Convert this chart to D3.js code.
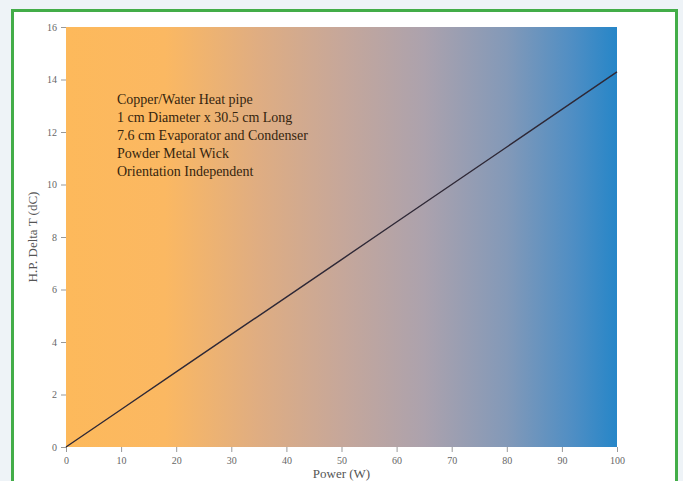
<!DOCTYPE html>
<html>
<head>
<meta charset="utf-8">
<script src="https://cdn.jsdelivr.net/npm/d3@7"></script>
<style>
  html, body { margin: 0; padding: 0; background: #eef3f7; }
  svg { display: block; }
</style>
</head>
<body>
<div id="chart"></div>
<script>
const power = [0, 10, 20, 30, 40, 50, 60, 70, 80, 90, 100];
const deltaT = [0, 1.43, 2.86, 4.29, 5.71, 7.14, 8.57, 10.0, 11.43, 12.86, 14.29];
const xTicks = [0, 10, 20, 30, 40, 50, 60, 70, 80, 90, 100];
const yTicks = [0, 2, 4, 6, 8, 10, 12, 14, 16];
const notes = [
  "Copper/Water Heat pipe",
  "1 cm Diameter x 30.5 cm Long",
  "7.6 cm Evaporator and Condenser",
  "Powder Metal Wick",
  "Orientation Independent"
];

const width = 683, height = 481;
const margin = { top: 27, right: 66, bottom: 34, left: 66 };

const svg = d3.select("#chart").append("svg")
  .attr("width", width)
  .attr("height", height);

// panel with green frame
svg.append("rect")
  .attr("x", 12.5).attr("y", 10.5)
  .attr("width", 664).attr("height", 480)
  .attr("fill", "#fff")
  .attr("stroke", "#43ad48")
  .attr("stroke-width", 3);

const x = d3.scaleLinear().domain([0, 100]).range([margin.left, width - margin.right]);
const y = d3.scaleLinear().domain([0, 16]).range([height - margin.bottom, margin.top]);

const defs = svg.append("defs");
const grad = defs.append("linearGradient").attr("id", "bg").attr("x1", 0).attr("x2", 1).attr("y1", 0).attr("y2", 0);
[[0, "#fdb95b"], [0.18, "#fbb862"], [0.35, "#dfad82"], [0.5, "#c6a79a"], [0.65, "#aca2ad"],
 [0.8, "#8399b8"], [0.92, "#4f8ec4"], [1, "#2686c8"]]
  .forEach(([o, c]) => grad.append("stop").attr("offset", o).attr("stop-color", c));

svg.append("rect")
  .attr("x", x(0)).attr("y", y(16))
  .attr("width", x(100) - x(0)).attr("height", y(0) - y(16))
  .attr("fill", "url(#bg)");

const tickStyle = g => {
  g.select(".domain").remove();
  g.selectAll(".tick line").attr("stroke", "#999");
  g.selectAll(".tick text")
    .attr("fill", "#666")
    .style("font-family", "'Liberation Serif', serif")
    .style("font-size", "10px");
};

svg.append("g")
  .attr("transform", `translate(0,${y(0)})`)
  .call(d3.axisBottom(x).tickValues(xTicks).tickSize(5).tickPadding(5))
  .call(tickStyle);

svg.append("g")
  .attr("transform", `translate(${x(0)},0)`)
  .call(d3.axisLeft(y).tickValues(yTicks).tickSize(5).tickPadding(4))
  .call(tickStyle);

svg.append("path")
  .datum(power.map((p, i) => [p, deltaT[i]]))
  .attr("fill", "none")
  .attr("stroke", "#2e2836")
  .attr("stroke-width", 1.4)
  .attr("d", d3.line().x(d => x(d[0])).y(d => y(d[1])));

svg.append("g")
  .selectAll("text")
  .data(notes)
  .join("text")
  .attr("x", 117)
  .attr("y", (d, i) => 104 + i * 18)
  .attr("fill", "#35250f")
  .style("font-family", "'Liberation Serif', serif")
  .style("font-size", "14px")
  .text(d => d);

svg.append("text")
  .attr("x", (x(0) + x(100)) / 2)
  .attr("y", 478)
  .attr("text-anchor", "middle")
  .attr("fill", "#555")
  .style("font-family", "'Liberation Serif', serif")
  .style("font-size", "13px")
  .text("Power (W)");

svg.append("text")
  .attr("transform", `translate(37,${(y(0) + y(16)) / 2}) rotate(-90)`)
  .attr("text-anchor", "middle")
  .attr("fill", "#555")
  .style("font-family", "'Liberation Serif', serif")
  .style("font-size", "13px")
  .text("H.P. Delta T (dC)");
</script>
</body>
</html>
